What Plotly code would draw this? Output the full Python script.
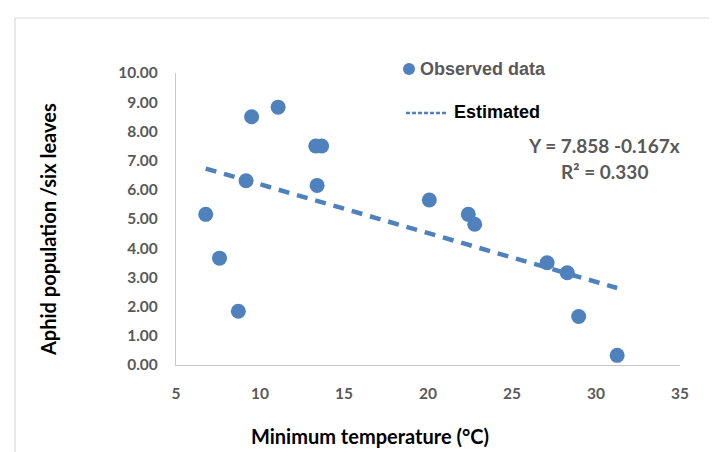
import plotly.graph_objects as go

# ---- data ----
min_temp = [6.77, 7.59, 8.71, 9.17, 9.50, 11.08, 13.32, 13.67, 13.40,
            20.08, 22.40, 22.78, 27.09, 28.29, 28.97, 31.26]
aphids = [5.16, 3.66, 1.84, 6.31, 8.50, 8.83, 7.50, 7.50, 6.15,
          5.65, 5.16, 4.82, 3.50, 3.16, 1.66, 0.33]
trend_intercept = 7.858
trend_slope = -0.167
r_squared = 0.330
x_ticks = [5, 10, 15, 20, 25, 30, 35]
y_ticks = [0, 1, 2, 3, 4, 5, 6, 7, 8, 9, 10]

trend_x = [min(min_temp), max(min_temp)]
trend_y = [trend_intercept + trend_slope * v for v in trend_x]

W, H = 717, 452
L, R, T, B = 168, 45, 65, 95
PW, PH = W - L - R, H - T - B


def px(x):
    return (x - L) / PW


def py(y):
    return (H - B - y) / PH


BLUE = "#4f81bd"
GRAY = "#595959"
FONT = "Lato"
ARIAL = "Liberation Sans, Arial, sans-serif"

fig = go.Figure()
fig.add_trace(go.Scatter(
    x=min_temp, y=aphids, mode="markers", name="Observed data",
    marker=dict(color=BLUE, size=15, line=dict(width=0)),
    showlegend=False))
fig.add_trace(go.Scatter(
    x=trend_x, y=trend_y, mode="lines", name="Estimated",
    line=dict(color=BLUE, width=4.5, dash="11px,8px"),
    showlegend=False))

fig.update_layout(
    width=W, height=H,
    margin=dict(l=L, r=R, t=T, b=B),
    paper_bgcolor="white", plot_bgcolor="white",
    xaxis=dict(range=[5, 35], tickvals=x_ticks, showgrid=False, zeroline=False,
               showline=True, linecolor="#c8c8c8", linewidth=1.2,
               ticks="outside", ticklen=14, tickcolor="rgba(0,0,0,0)",
               tickfont=dict(family=FONT, size=15.5, color=GRAY, weight="bold")),
    yaxis=dict(range=[0, 10], tickvals=y_ticks, tickformat=".2f", showgrid=False,
               zeroline=False, showline=True, linecolor="#c8c8c8", linewidth=1.2,
               ticks="outside", ticklen=14, tickcolor="rgba(0,0,0,0)",
               tickfont=dict(family=FONT, size=15.5, color=GRAY, weight="bold")),
    showlegend=False,
)

shapes = [
    # chart-area border (left and top edges visible)
    dict(type="path", xref="paper", yref="paper",
         path=f"M {px(7)} {py(470)} L {px(7)} {py(10)} L {px(760)} {py(10)}",
         line=dict(color="#d9d9d9", width=1.2)),
    # legend symbol: observed
    dict(type="circle", xref="paper", yref="paper",
         x0=px(395), x1=px(407), y0=py(67), y1=py(55),
         fillcolor=BLUE, line=dict(width=0)),
    # legend symbol: estimated
    dict(type="line", xref="paper", yref="paper",
         x0=px(398), x1=px(440), y0=py(105), y1=py(105),
         line=dict(color=BLUE, width=2.5, dash="4px,2px")),
]

annotations = [
    dict(text="Observed data", x=px(410), y=py(61), xanchor="left", yanchor="middle",
         font=dict(family=ARIAL, size=18, color=GRAY, weight="bold")),
    dict(text="Estimated", x=px(444), y=py(104), xanchor="left", yanchor="middle",
         font=dict(family=ARIAL, size=18, color="black", weight="bold")),
    dict(text=f"Y = {trend_intercept:.3f} {trend_slope:.3f}x", x=px(596), y=py(137),
         xanchor="center", yanchor="middle",
         font=dict(family=FONT, size=19, color=GRAY, weight="bold")),
    dict(text=f"R² = {r_squared:.3f}", x=px(596), y=py(163),
         xanchor="center", yanchor="middle",
         font=dict(family=FONT, size=19, color=GRAY, weight="bold")),
    dict(text="Minimum temperature (°C)", x=px(362), y=py(428),
         xanchor="center", yanchor="middle",
         font=dict(family=FONT, size=20, color="black", weight="bold")),
    dict(text="Aphid population /six leaves", x=px(40), y=py(222),
         xanchor="center", yanchor="middle", textangle=-90,
         font=dict(family=FONT, size=20, color="black", weight="bold")),
]
for a in annotations:
    a.update(xref="paper", yref="paper", showarrow=False)

fig.update_layout(shapes=shapes, annotations=annotations)
fig.write_html("out.html")
